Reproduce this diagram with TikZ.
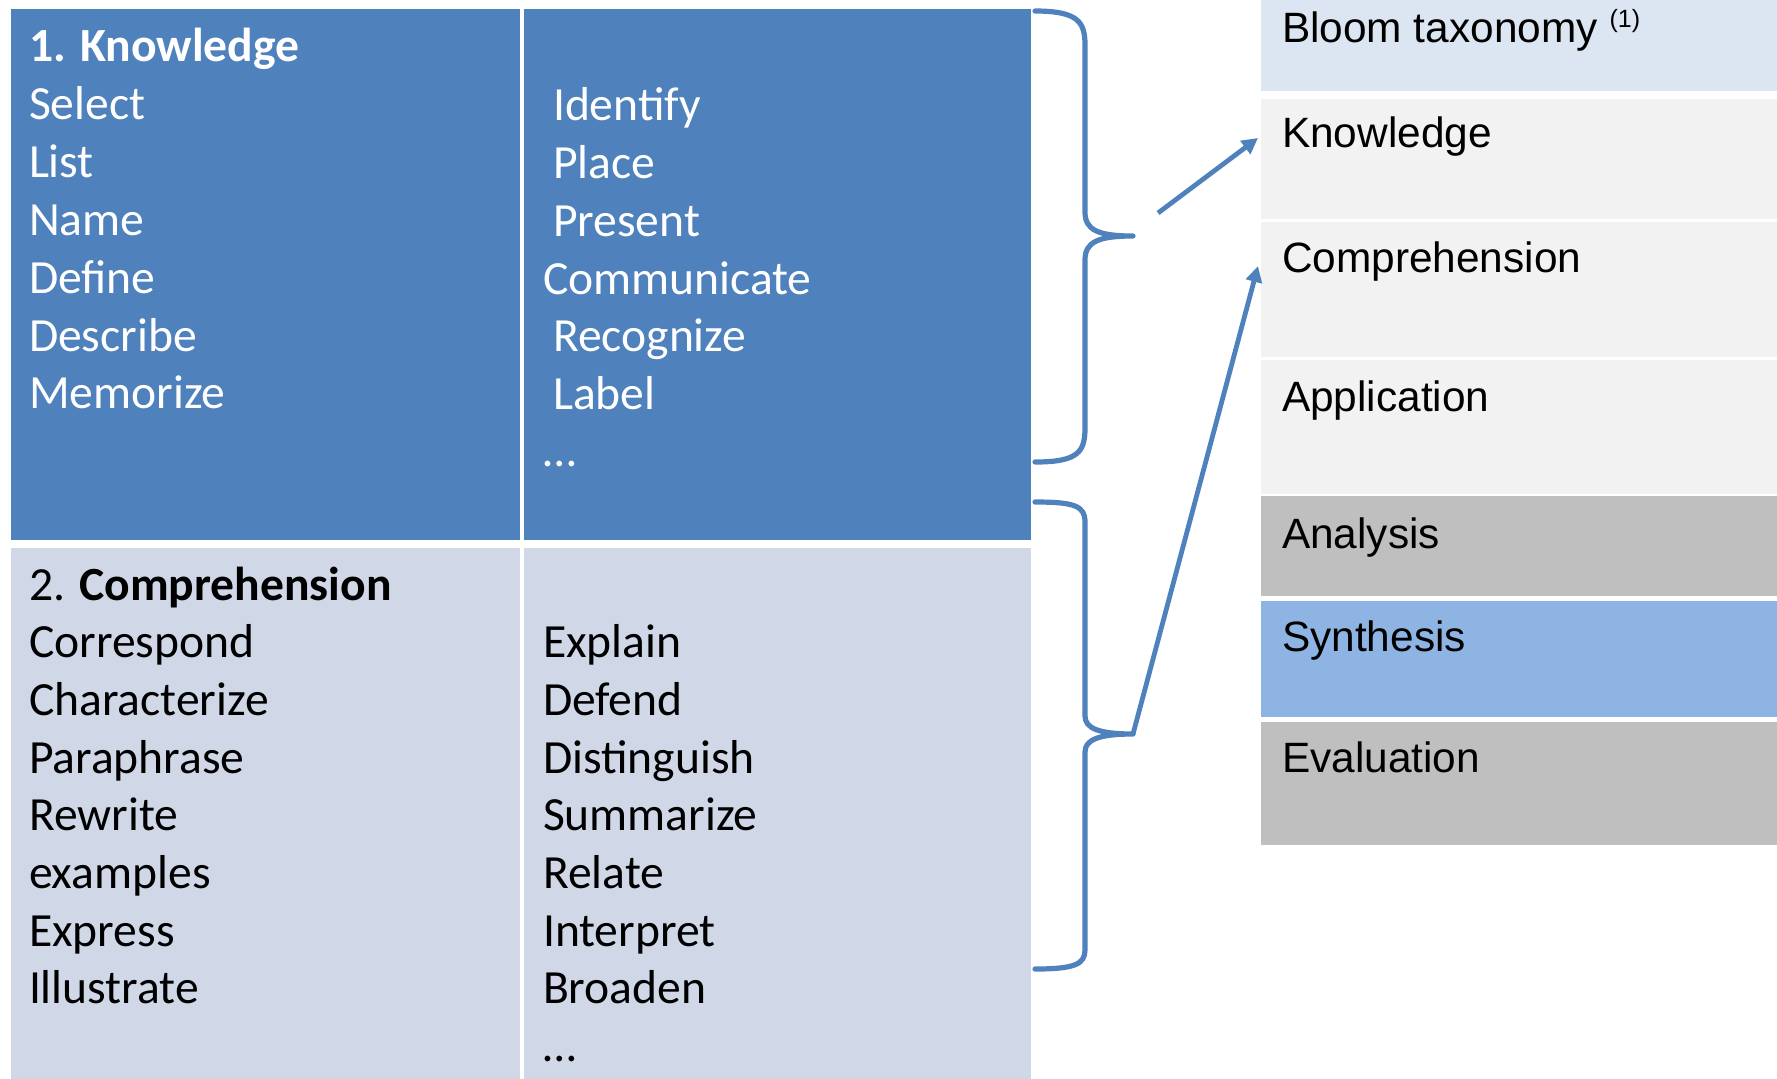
\documentclass[tikz,border=0pt]{standalone}
\usepackage{fontspec}
\setmainfont{Carlito}
\newfontfamily\arialfont{Liberation Sans}
\usetikzlibrary{arrows.meta}
\definecolor{kblue}{HTML}{4F81BD}
\definecolor{clight}{HTML}{D0D8E8}
\definecolor{hdrblue}{HTML}{DCE6F2}
\definecolor{lvlgray}{HTML}{F2F2F2}
\definecolor{midgray}{HTML}{BFBFBF}
\definecolor{synblue}{HTML}{8EB4E3}
\begin{document}
\begin{tikzpicture}[x=0.5pt,y=-0.5pt,
  cell/.style={draw=none,inner sep=0,outer sep=0,anchor=north west},
  word/.style={inner sep=0,outer sep=0,anchor=base west,font=\fontsize{23.8}{28.9}\selectfont},
  lvl/.style={inner sep=0,outer sep=0,anchor=base west,font=\arialfont\fontsize{21.2}{26}\selectfont},
  brace/.style={draw=kblue,line width=2.6pt,line cap=round,line join=round},
  link/.style={draw=kblue,line width=2.4pt,-{Triangle[length=8pt,width=8pt]}}]
\useasboundingbox (0,0) rectangle (1777,1078);

% verb table cells
\node[cell,fill=kblue,minimum width=254.5pt,minimum height=265.5pt] (kL) at (11,9) {};
\node[cell,fill=kblue,minimum width=253.75pt,minimum height=265.5pt] (kR) at (523.5,9) {};
\node[cell,fill=clight,minimum width=254.5pt,minimum height=266pt] (cL) at (11,548) {};
\node[cell,fill=clight,minimum width=253.75pt,minimum height=266pt] (cR) at (523.5,548) {};

% knowledge verbs
\node[word,text=white,font=\bfseries\fontsize{23.8}{28.9}\selectfont] (kh) at (29,61) {1. Knowledge};
\foreach \w [count=\i] in {Select,List,Name,Define,Describe,Memorize}
  \node[word,text=white] (kl\i) at (29,{62+57.8*\i}) {\w};
\node[word,text=white] (kr1) at (553,120) {Identify};
\node[word,text=white] (kr2) at (553,178) {Place};
\node[word,text=white] (kr3) at (553,236) {Present};
\node[word,text=white] (kr4) at (543,294) {Communicate};
\node[word,text=white] (kr5) at (553,351) {Recognize};
\node[word,text=white] (kr6) at (553,409) {Label};
\node[word,text=white] (kr7) at (543,466) {…};

% comprehension verbs
\node[word] (ch) at (29,600) {2. \textbf{Comprehension}};
\foreach \w [count=\i] in {Correspond,Characterize,Paraphrase,Rewrite,examples,Express,Illustrate}
  \node[word] (cl\i) at (29,{600+57.7*\i}) {\w};
\foreach \w [count=\i] in {Explain,Defend,Distinguish,Summarize,Relate,Interpret,Broaden,…}
  \node[word] (cr\i) at (543,{600+57.7*\i}) {\w};

% taxonomy levels
\node[cell,fill=hdrblue,minimum width=258pt,minimum height=45.5pt] (bt) at (1261,0) {};
\node[cell,fill=lvlgray,minimum width=258pt,minimum height=60pt] (kn) at (1261,99) {};
\node[cell,fill=lvlgray,minimum width=258pt,minimum height=67.5pt] (co) at (1261,222) {};
\node[cell,fill=lvlgray,minimum width=258pt,minimum height=67pt] (ap) at (1261,360) {};
\node[cell,fill=midgray,minimum width=258pt,minimum height=50pt] (an) at (1261,496) {};
\node[cell,fill=synblue,minimum width=258pt,minimum height=58pt] (sy) at (1261,601) {};
\node[cell,fill=midgray,minimum width=258pt,minimum height=61.5pt] (ev) at (1261,722) {};

\node[lvl] (btt) at (1282,42) {Bloom taxonomy \raisebox{7.5pt}{\fontsize{12.5}{14}\selectfont (1)}};
\node[lvl] (knt) at (1282,147) {Knowledge};
\node[lvl] (cot) at (1282,272) {Comprehension};
\node[lvl] (apt) at (1282,411) {Application};
\node[lvl] (ant) at (1282,548) {Analysis};
\node[lvl] (syt) at (1282,651) {Synthesis};
\node[lvl] (evt) at (1282,772) {Evaluation};

% braces grouping the verb rows
\coordinate (b1tip) at (1133,236);
\coordinate (b2tip) at (1133,734);
\draw[brace] (1035,11) .. controls (1078,11) and (1085,22) .. (1085,45)
  -- (1085,212) .. controls (1085,230) and (1098,236) .. (b1tip)
  .. controls (1098,236) and (1085,242) .. (1085,260)
  -- (1085,428) .. controls (1085,452) and (1078,462) .. (1035,462);
\draw[brace] (1035,502) .. controls (1075,502) and (1085,506) .. (1085,522)
  -- (1085,716) .. controls (1085,728) and (1098,734) .. (b2tip)
  .. controls (1098,734) and (1085,740) .. (1085,752)
  -- (1085,950) .. controls (1085,964) and (1075,969) .. (1035,969);

% links to the taxonomy levels
\coordinate (a1start) at (1158,213);
\coordinate (a1end) at (1258,138);
\coordinate (a2end) at (1258,266);
\draw[link] (a1start) -- (a1end);
\draw[link] (b2tip) -- (a2end);
\end{tikzpicture}
\end{document}
